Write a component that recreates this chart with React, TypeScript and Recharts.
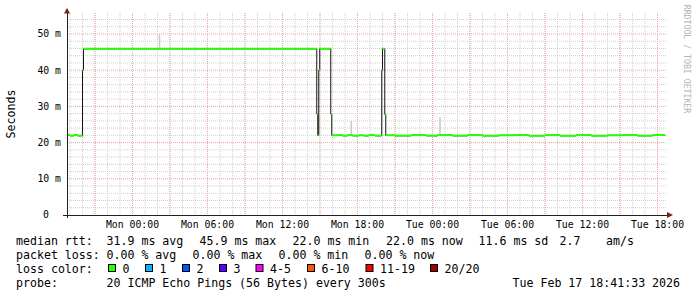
import React from "react";
import { ComposedChart, Line, XAxis, YAxis, CartesianGrid } from "recharts";

// time axis is in hours from Mon 00:00
const timeTicks = [0, 6, 12, 18, 24, 30, 36, 42];
const timeLabels = ["Mon 00:00", "Mon 06:00", "Mon 12:00", "Mon 18:00", "Tue 00:00", "Tue 06:00", "Tue 12:00", "Tue 18:00"];
const msTicks = [0, 10, 20, 30, 40, 50];

const minorHours = [-5, -4, -3, -2, -1, 0, 1, 2, 3, 4, 5, 6, 7, 8, 9, 10, 11, 12, 13, 14, 15, 16, 17, 18, 19, 20, 21, 22, 23, 24, 25, 26, 27, 28, 29, 30, 31, 32, 33, 34, 35, 36, 37, 38, 39, 40, 41, 42];
const majorHours = [-3, 0, 3, 6, 9, 12, 15, 18, 21, 24, 27, 30, 33, 36, 39, 42];
const minorMs = [2, 4, 6, 8, 12, 14, 16, 18, 22, 24, 26, 28, 32, 34, 36, 38, 42, 44, 46, 48, 52, 54];
const majorMs = [10, 20, 30, 40, 50];

// median rtt (ms), step changes
const medianTimes = [-5.24, -5.0, -4.7, -4.4, -4.0, -3.92, 14.74, 14.82, 14.9, 14.98, 15.86, 15.94, 16.4, 16.8, 17.2, 17.6, 18.1, 18.5, 18.9, 19.4, 19.94, 20.0, 20.18, 20.26, 21.0, 22.3, 23.5, 24.4, 25.6, 26.8, 28.0, 29.3, 30.5, 31.7, 33.0, 34.2, 35.5, 36.7, 38.0, 39.2, 40.4, 41.6, 42.6];
const medianValues = [22.1, 21.9, 22.1, 21.9, 40.0, 45.9, 27.9, 22.0, 40.0, 45.9, 27.9, 22.0, 22.1, 21.9, 22.1, 21.9, 22.0, 21.9, 22.1, 21.9, 40.0, 45.9, 27.8, 22.0, 21.9, 22.1, 21.9, 22.1, 21.9, 22.1, 21.9, 22.0, 22.1, 21.9, 22.1, 21.9, 22.1, 21.9, 22.0, 22.1, 21.9, 22.1, 22.0];

// smoke (spread of pings)
const smokeTimes = [2.16, 17.5, 24.6];
const smokeLow = [46.2, 22.3, 22.3];
const smokeHigh = [49.8, 26.0, 27.0];

const rttStats = ["31.9 ms avg", "45.9 ms max", "22.0 ms min", "22.0 ms now", "11.6 ms sd", "2.7", "am/s"];
const lossStats = ["0.00 % avg", "0.00 % max", "0.00 % min", "0.00 % now"];
const lossLabels = ["0", "1", "2", "3", "4-5", "6-10", "11-19", "20/20"];
const lossColors = ["#26ff00", "#00b8ff", "#0059ff", "#5e00ff", "#ff00ff", "#ff5500", "#ff0000", "#a10000"];
const probeText = "20 ICMP Echo Pings (56 Bytes) every 300s";
const stampText = "Tue Feb 17 18:41:33 2026";

const rttX = [106.5, 199.5, 292.5, 386, 478.5, 559.5, 606];
const lossX = [106.5, 192.5, 278.5, 364.5];
const squareX = [108.5, 145.5, 182.5, 219.5, 256, 307.5, 366, 430.5];

const mono = "'DejaVu Sans Mono', monospace";

const medianData = medianTimes.map((t, i) => ({ t, v: medianValues[i] }));
const greenData: { t: number; v: number | null }[] = [];
for (let i = 0; i < medianTimes.length - 1; i++) {
  greenData.push({ t: medianTimes[i], v: medianValues[i] });
  greenData.push({ t: medianTimes[i + 1], v: medianValues[i] });
  greenData.push({ t: medianTimes[i + 1], v: null });
}
const smokeData: { t: number; v: number | null }[] = [];
smokeTimes.forEach((t, i) => {
  smokeData.push({ t, v: smokeLow[i] });
  smokeData.push({ t, v: smokeHigh[i] });
  smokeData.push({ t, v: null });
});

function YTick(props: any) {
  const { x, y, payload } = props;
  const v = payload.value;
  return (
    <text x={v === 0 ? x - 10 : x + 2} y={y} dy="0.35em" textAnchor="end" fontFamily={mono} fontSize={9.8} fill="#000">
      {v === 0 ? "0" : `${v} m`}
    </text>
  );
}

export default function App() {
  const txt = { fontFamily: mono, fontSize: 11.6, fill: "#000", whiteSpace: "pre" as const };
  return (
    <div style={{ position: "absolute", left: 0, top: 0, width: 697, height: 297, background: "#fff" }}>
      <ComposedChart width={697} height={297} margin={{ top: 13, right: 30, bottom: 62, left: 0 }}>
        <CartesianGrid stroke="#cfcfcf" strokeDasharray="1 1" horizontalValues={minorMs} verticalValues={minorHours} />
        <CartesianGrid stroke="#e6a4a4" strokeDasharray="1 1" horizontalValues={majorMs} verticalValues={majorHours} />
        <XAxis
          type="number"
          dataKey="t"
          domain={[-5.24, 42.76]}
          ticks={timeTicks}
          interval={0}
          allowDataOverflow
          height={20}
          tickLine={false}
          tickMargin={0}
          tickFormatter={(v: number) => timeLabels[timeTicks.indexOf(v)]}
          tick={{ fontFamily: mono, fontSize: 9.8, fill: "#000" }}
          axisLine={{ stroke: "#1f1f1f", shapeRendering: "crispEdges" }}
        />
        <YAxis
          type="number"
          dataKey="v"
          domain={[0, 55.8]}
          ticks={msTicks}
          interval={0}
          allowDataOverflow
          width={67}
          tickLine={false}
          tick={(p: any) => <YTick {...p} />}
          axisLine={{ stroke: "#1f1f1f", shapeRendering: "crispEdges" }}
        />
        <Line data={smokeData} dataKey="v" stroke="#c8c8c8" strokeWidth={1.5} dot={false} isAnimationActive={false} />
        <Line data={medianData} type="stepAfter" dataKey="v" stroke="#151515" strokeWidth={1} dot={false} isAnimationActive={false} />
        <Line data={greenData} dataKey="v" stroke="#26ff00" strokeWidth={2} dot={false} isAnimationActive={false} />
      </ComposedChart>
      <svg width={697} height={297} style={{ position: "absolute", left: 0, top: 0, pointerEvents: "none" }}>
        <g stroke="#1f1f1f" shapeRendering="crispEdges">
          <line x1={63} y1={215} x2={67} y2={215} />
          <line x1={667} y1={215} x2={669} y2={215} />
          <line x1={67} y1={9} x2={67} y2={13} />
          <line x1={67} y1={215} x2={67} y2={218} />
        </g>
        <polygon points="667,212 673,215 667,218" fill="#7f1f1f" />
        <polygon points="64,13.5 67,8 70,13.5" fill="#7f1f1f" />
        <text x={11} y={114} transform="rotate(-90, 11, 114)" textAnchor="middle" dominantBaseline="central" {...txt}>
          Seconds
        </text>
        <text x={687} y={59} transform="rotate(90, 687, 59)" textAnchor="middle" dominantBaseline="central" fontFamily={mono} fontSize={8.2} fill="#b4b4b4">
          RRDTOOL / TOBI OETIKER
        </text>
        <text x={16} y={244.5} {...txt}>median rtt:</text>
        {rttStats.map((s, i) => (
          <text key={s} x={rttX[i]} y={244.5} {...txt}>{s}</text>
        ))}
        <text x={16} y={258.5} {...txt}>packet loss:</text>
        {lossStats.map((s, i) => (
          <text key={s} x={lossX[i]} y={258.5} {...txt}>{s}</text>
        ))}
        <text x={16} y={272.5} {...txt}>loss color:</text>
        {lossLabels.map((s, i) => (
          <g key={s}>
            <rect x={squareX[i]} y={264.5} width={7} height={7} fill={lossColors[i]} stroke="#000" strokeWidth={1} />
            <text x={squareX[i] + 14} y={272.5} {...txt}>{s}</text>
          </g>
        ))}
        <text x={16} y={286.5} {...txt}>probe:</text>
        <text x={106.5} y={286.5} {...txt}>{probeText}</text>
        <text x={512.5} y={286.5} {...txt}>{stampText}</text>
      </svg>
    </div>
  );
}
